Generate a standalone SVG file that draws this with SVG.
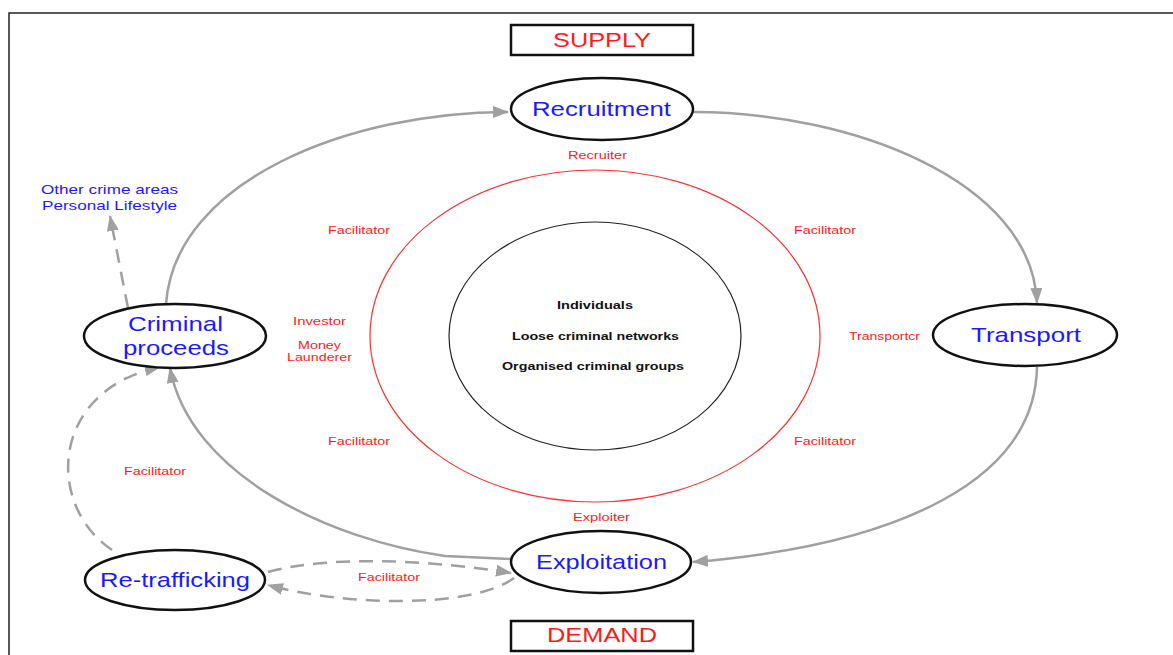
<svg xmlns="http://www.w3.org/2000/svg" width="1173" height="655" viewBox="0 0 1173 655">
<style>
.node{fill:#fff;stroke:#111;stroke-width:2.5}
.box{fill:#fff;stroke:#111;stroke-width:2.5}
text{font-family:"Liberation Sans",Arial,sans-serif;text-anchor:middle}
.nt{font-size:21px;fill:#1a1aff}
.bt{font-size:20px;fill:#ff1a1a}
.rl{font-size:11.5px;fill:#ff1a1a}
.il{font-size:11.5px;font-weight:bold;fill:#111}
.bl{font-size:13.5px;fill:#1a1aff}
.c{fill:none;stroke:#a0a0a0;stroke-width:2.5}
.d{fill:none;stroke:#a0a0a0;stroke-width:2.5;stroke-dasharray:14 9}
</style>
<defs>
<marker id="ah" markerUnits="userSpaceOnUse" markerWidth="16" markerHeight="12" refX="15" refY="6" orient="auto">
<path d="M0,0 L16,6 L0,12 Z" fill="#a0a0a0"/>
</marker>
</defs>
<rect x="0" y="0" width="1173" height="655" fill="#fff"/>
<path d="M9,655 L9,13 L1173,13" fill="none" stroke="#222" stroke-width="1.5"/>

<g id="rings">
<ellipse cx="595" cy="336" rx="225" ry="166" fill="none" stroke="#ff3030" stroke-width="1.2"/>
<ellipse cx="595" cy="336" rx="146" ry="114" fill="none" stroke="#222" stroke-width="1.2"/>
<text class="il" x="595" y="309" textLength="76" lengthAdjust="spacingAndGlyphs">Individuals</text>
<text class="il" x="595.5" y="340" textLength="167" lengthAdjust="spacingAndGlyphs">Loose criminal networks</text>
<text class="il" x="593" y="370" textLength="182" lengthAdjust="spacingAndGlyphs">Organised criminal groups</text>
</g>

<g id="connectors">
<path class="c" d="M166,304 C175,180 350,112 508,112" marker-end="url(#ah)"/>
<path class="c" d="M693,112 C850,112 1032,180 1037,303" marker-end="url(#ah)"/>
<path class="c" d="M1037,367 C1035,480 900,545 693,562" marker-end="url(#ah)"/>
<path class="c" d="M511,559 L445,556 C330,540 190,475 170,368" marker-end="url(#ah)"/>
<path class="d" d="M128,308 L110,216" marker-end="url(#ah)"/>
<path class="d" d="M112,550 C45,505 50,390 160,367" marker-end="url(#ah)"/>
<path class="d" d="M268,572 C330,555 430,560 511,573" marker-end="url(#ah)"/>
<path class="d" d="M514,578 C470,610 340,605 268,585" marker-end="url(#ah)"/>
</g>

<g id="supply">
<rect class="box" x="511" y="25" width="182" height="30"/>
<text class="bt" x="602" y="47" textLength="98" lengthAdjust="spacingAndGlyphs">SUPPLY</text>
</g>
<g id="demand">
<rect class="box" x="511" y="621" width="182" height="30"/>
<text class="bt" x="602" y="642" textLength="110" lengthAdjust="spacingAndGlyphs">DEMAND</text>
</g>

<g id="recruitment">
<ellipse class="node" cx="602" cy="109" rx="91" ry="31"/>
<text class="nt" x="601.5" y="116" textLength="139" lengthAdjust="spacingAndGlyphs">Recruitment</text>
</g>
<g id="transport">
<ellipse class="node" cx="1025" cy="335" rx="92" ry="31"/>
<text class="nt" x="1026" y="342" textLength="110" lengthAdjust="spacingAndGlyphs">Transport</text>
</g>
<g id="exploitation">
<ellipse class="node" cx="601" cy="562" rx="90" ry="31"/>
<text class="nt" x="601.5" y="569" textLength="131" lengthAdjust="spacingAndGlyphs">Exploitation</text>
</g>
<g id="criminal-proceeds">
<ellipse class="node" cx="175" cy="336" rx="91" ry="32"/>
<text class="nt" x="175.5" y="331" textLength="95" lengthAdjust="spacingAndGlyphs">Criminal</text>
<text class="nt" x="176" y="355" textLength="106" lengthAdjust="spacingAndGlyphs">proceeds</text>
</g>
<g id="re-trafficking">
<ellipse class="node" cx="175" cy="580" rx="90" ry="30"/>
<text class="nt" x="175" y="587" textLength="150" lengthAdjust="spacingAndGlyphs">Re-trafficking</text>
</g>

<g id="labels">
<text class="bl" x="109.5" y="194" textLength="137" lengthAdjust="spacingAndGlyphs">Other crime areas</text>
<text class="bl" x="109.5" y="210" textLength="135" lengthAdjust="spacingAndGlyphs">Personal Lifestyle</text>
<text class="rl" x="597.5" y="159" textLength="59" lengthAdjust="spacingAndGlyphs">Recruiter</text>
<text class="rl" x="359" y="234" textLength="62" lengthAdjust="spacingAndGlyphs">Facilitator</text>
<text class="rl" x="825" y="234" textLength="62" lengthAdjust="spacingAndGlyphs">Facilitator</text>
<text class="rl" x="359" y="445" textLength="62" lengthAdjust="spacingAndGlyphs">Facilitator</text>
<text class="rl" x="825" y="445" textLength="62" lengthAdjust="spacingAndGlyphs">Facilitator</text>
<text class="rl" x="319.5" y="325" textLength="53" lengthAdjust="spacingAndGlyphs">Investor</text>
<text class="rl" x="319.5" y="349" textLength="43" lengthAdjust="spacingAndGlyphs">Money</text>
<text class="rl" x="319.5" y="361" textLength="65" lengthAdjust="spacingAndGlyphs">Launderer</text>
<text class="rl" x="884.5" y="340" textLength="71" lengthAdjust="spacingAndGlyphs">Transportcr</text>
<text class="rl" x="601.5" y="521" textLength="57" lengthAdjust="spacingAndGlyphs">Exploiter</text>
<text class="rl" x="155" y="475" textLength="62" lengthAdjust="spacingAndGlyphs">Facilitator</text>
<text class="rl" x="389" y="581" textLength="62" lengthAdjust="spacingAndGlyphs">Facilitator</text>
</g>
</svg>
